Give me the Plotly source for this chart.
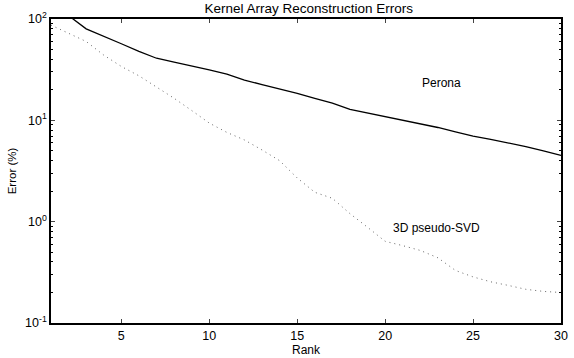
import plotly.graph_objects as go

rank = list(range(1, 31))
perona = [135, 108, 80, 67, 57, 48, 41, 37.5, 34.5, 31.5, 28.5, 25, 22.5, 20.5, 18.5,
          16.5, 14.8, 12.8, 11.8, 10.9, 10.1, 9.3, 8.5, 7.7, 7.0, 6.5, 6.0, 5.5, 5.0, 4.5]
svd3d = [87, 72, 60, 44, 34, 27.5, 21.5, 16.5, 12.5, 9.4, 7.6, 6.4, 5.1, 4.0, 2.7,
         1.95, 1.7, 1.2, 0.88, 0.64, 0.58, 0.52, 0.44, 0.33, 0.285, 0.255, 0.235, 0.215, 0.205, 0.2]

x_ticks = [5, 10, 15, 20, 25, 30]
y_ticks = [0.1, 1, 10, 100]
y_ticktext = ["10<sup>-1</sup>", "10<sup>0</sup>", "10<sup>1</sup>", "10<sup>2</sup>"]
y_minor = [m * d for d in (0.1, 1, 10) for m in range(2, 10)]

font = "Liberation Sans, Arial, Helvetica, sans-serif"

fig = go.Figure()
fig.add_trace(go.Scatter(x=rank, y=perona, mode="lines",
                         line=dict(color="black", width=1.3), name="Perona"))
fig.add_trace(go.Scatter(x=rank, y=svd3d, mode="lines",
                         line=dict(color="#666666", width=1, dash="1px,4px"), name="3D pseudo-SVD"))

fig.add_annotation(x=23.2, y=1.369, xref="x", yref="y", text="Perona",
                   showarrow=False, font=dict(size=12, color="black", family=font))
fig.add_annotation(x=22.9, y=-0.065, xref="x", yref="y", text="3D pseudo-SVD",
                   showarrow=False, font=dict(size=12, color="black", family=font))

fig.update_layout(
    width=574, height=358,
    margin=dict(l=51, r=6, t=19, b=30),
    paper_bgcolor="white", plot_bgcolor="white",
    showlegend=False,
    font=dict(family=font, size=12, color="black"),
    title=dict(text="Kernel Array Reconstruction Errors", x=0.538, xanchor="center",
               y=0.976, yanchor="middle", font=dict(size=13.5, family=font)),
    xaxis=dict(range=[1, 30], tickvals=x_ticks, ticks="inside", ticklen=4,
               showgrid=False, zeroline=False, showline=True, linecolor="black",
               linewidth=1.5, mirror="allticks",
               title=dict(text="Rank", standoff=1, font=dict(size=12)),
               tickfont=dict(size=12.5)),
    yaxis=dict(type="log", range=[-1, 2], tickvals=y_ticks, ticktext=y_ticktext,
               ticks="inside", ticklen=4, showgrid=False, zeroline=False,
               showline=True, linecolor="black", linewidth=1.5, mirror="allticks",
               minor=dict(tickvals=y_minor, ticks="inside", ticklen=2, tickcolor="black"),
               title=dict(text="Error (%)", standoff=6, font=dict(size=11.5)),
               tickfont=dict(size=12.5)),
)

fig.write_html("out.html", config={"displayModeBar": False},
               post_script="document.body.style.margin='0';document.body.style.padding='0';")
